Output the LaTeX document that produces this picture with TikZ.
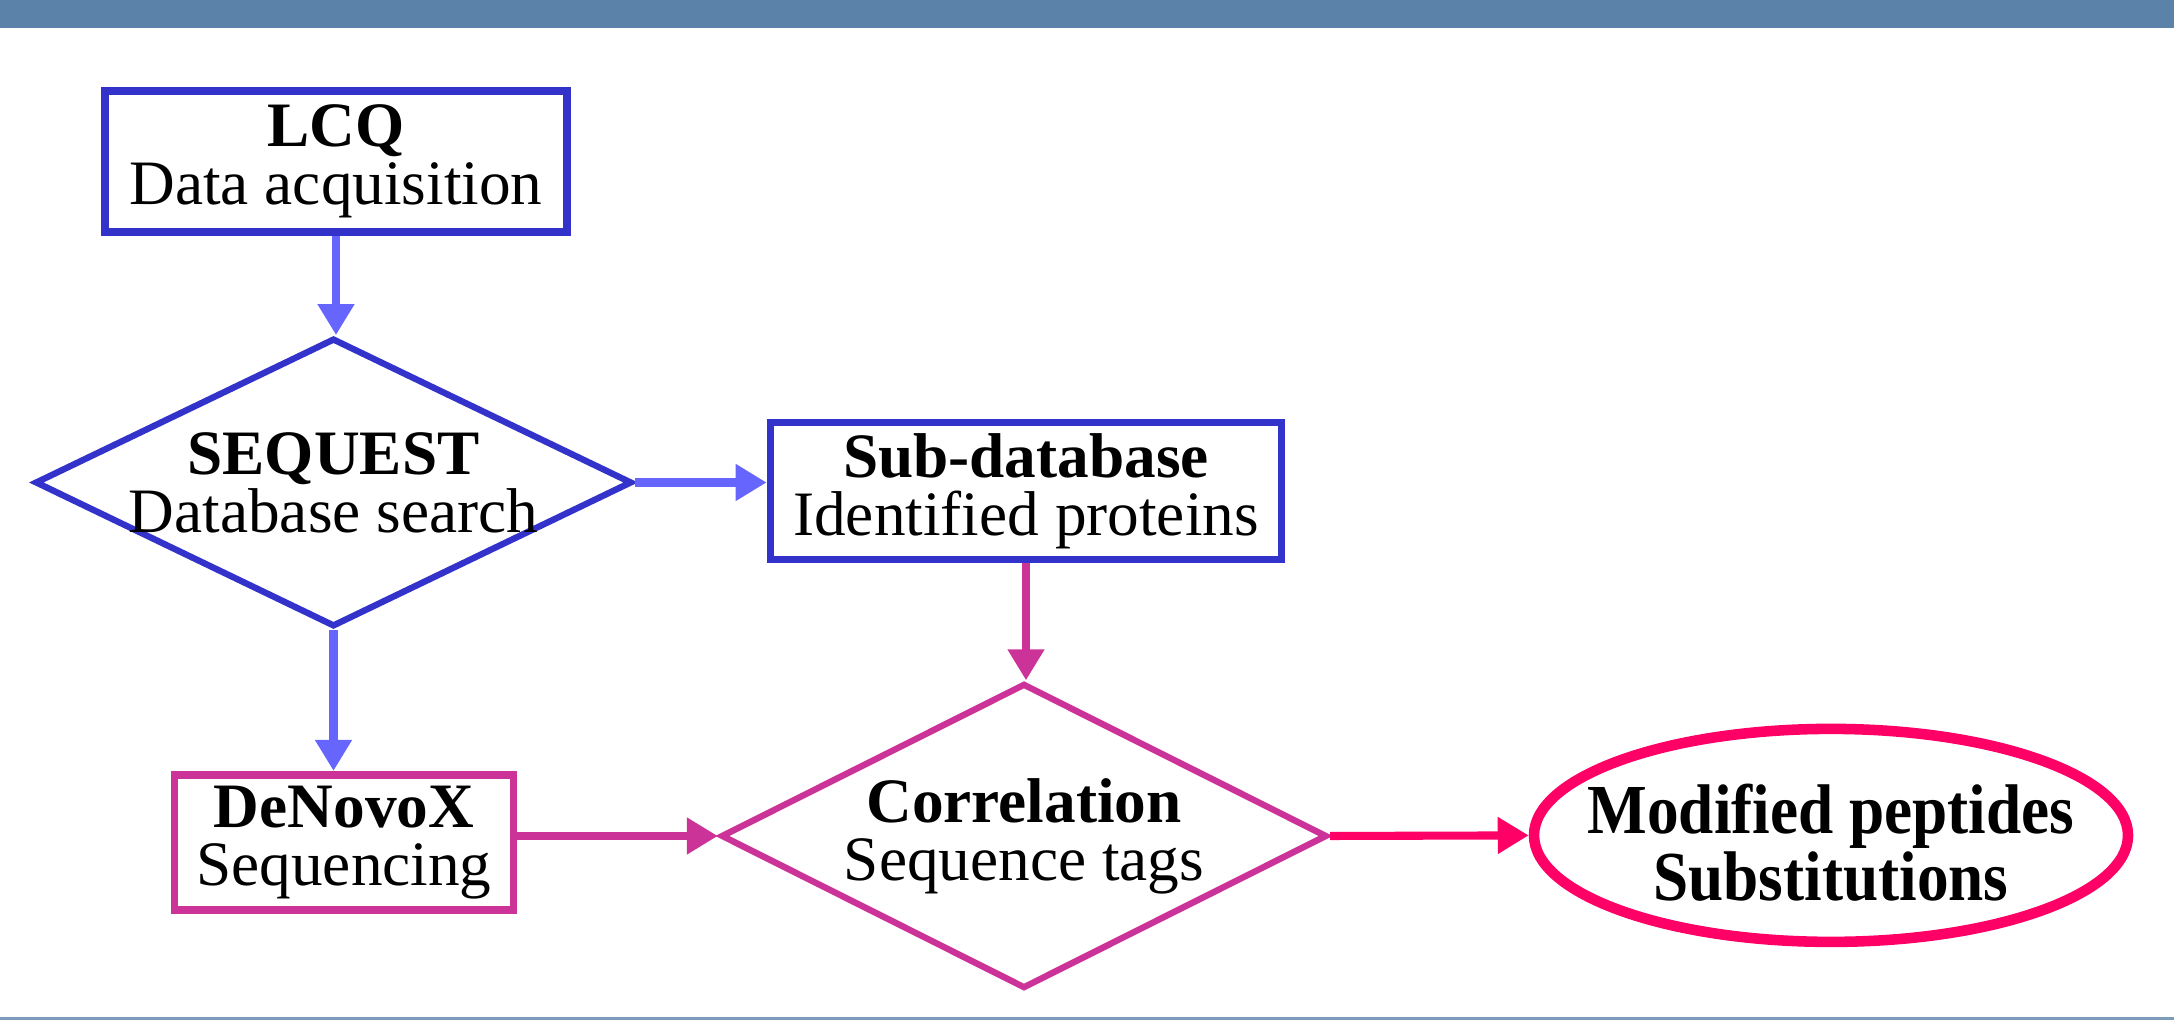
\documentclass[tikz,border=0pt]{standalone}
\usepackage{fontspec}
\setmainfont{Liberation Serif}
\newfontfamily\tallserif[FakeStretch=0.9]{Liberation Serif}
\usepackage{xcolor}
\usepackage{tikz}
\usetikzlibrary{shapes.geometric, arrows.meta, positioning}
\definecolor{boxblue}{RGB}{51,51,204}
\definecolor{arrowblue}{RGB}{102,102,255}
\definecolor{orchid}{RGB}{204,51,153}
\definecolor{hotpink}{RGB}{255,0,102}
\definecolor{banner}{RGB}{91,131,170}
\tikzset{
    stagetext/.style={align=center, font=\fontsize{18}{16.5}\selectfont},
    stage/.style={rectangle, draw=boxblue, line width=2.2pt, fill=white, inner sep=0pt, stagetext},
    decision/.style={diamond, draw=boxblue, line width=1.8pt, fill=white, inner sep=0pt},
    result/.style={ellipse, draw=hotpink, line width=3pt, fill=white, inner sep=0pt},
    flow/.style={-{Triangle[length=3.1mm, width=3.5mm]}, line width=2.3pt, draw=arrowblue, fill=arrowblue}
}
\begin{document}
\begin{tikzpicture}[
    resulttext/.style={align=center, font=\tallserif\bfseries\fontsize{20}{15.5}\selectfont}
]
    \useasboundingbox (0,0) rectangle (21.74,10.2);
    % Banner and bottom rule
    \fill[banner] (0,9.92) rectangle (21.74,10.2);
    \fill[banner!80] (0,0) rectangle (21.74,0.03);

    % Search stages
    \node[stage, minimum width=4.62cm, minimum height=1.41cm] (lcq) at (3.36,8.585) {\textbf{LCQ}\\Data acquisition};
    \node[decision, minimum width=5.97cm, minimum height=2.885cm,
        label={[stagetext]center:{\textbf{SEQUEST}\\Database search}}] (seq) at (3.335,5.375) {};
    \node[stage, minimum width=5.11cm, minimum height=1.37cm] (sub) at (10.26,5.29) {\textbf{Sub-database}\\Identified proteins};

    % Tag stages
    \node[stage, draw=orchid, minimum width=3.39cm, minimum height=1.35cm] (deno) at (3.44,1.777) {\textbf{DeNovoX}\\Sequencing};
    \node[decision, draw=orchid, minimum width=6.06cm, minimum height=3.05cm,
        label={[stagetext]center:{\textbf{Correlation}\\Sequence tags}}] (corr) at (10.24,1.84) {};
    \node[result, minimum width=5.94cm, minimum height=2.13cm,
        label={[resulttext, yshift=-0.07cm]center:{Modified peptides\\Substitutions}}] (mods) at (18.31,1.846) {};

    % Connections
    \draw[flow] (lcq.south) -- (lcq.south |- seq.north);
    \draw[flow] (seq.east) -- (seq.east -| sub.west);
    \draw[flow] (seq.south) -- (seq.south |- deno.north);
    \draw[flow, draw=orchid, fill=orchid] (sub.south) -- (sub.south |- corr.north);
    \draw[flow, draw=orchid, fill=orchid] (deno.east |- corr.west) -- (corr.west);
    \draw[flow, draw=hotpink, fill=hotpink] (corr.east) -- (mods.west);
\end{tikzpicture}
\end{document}
